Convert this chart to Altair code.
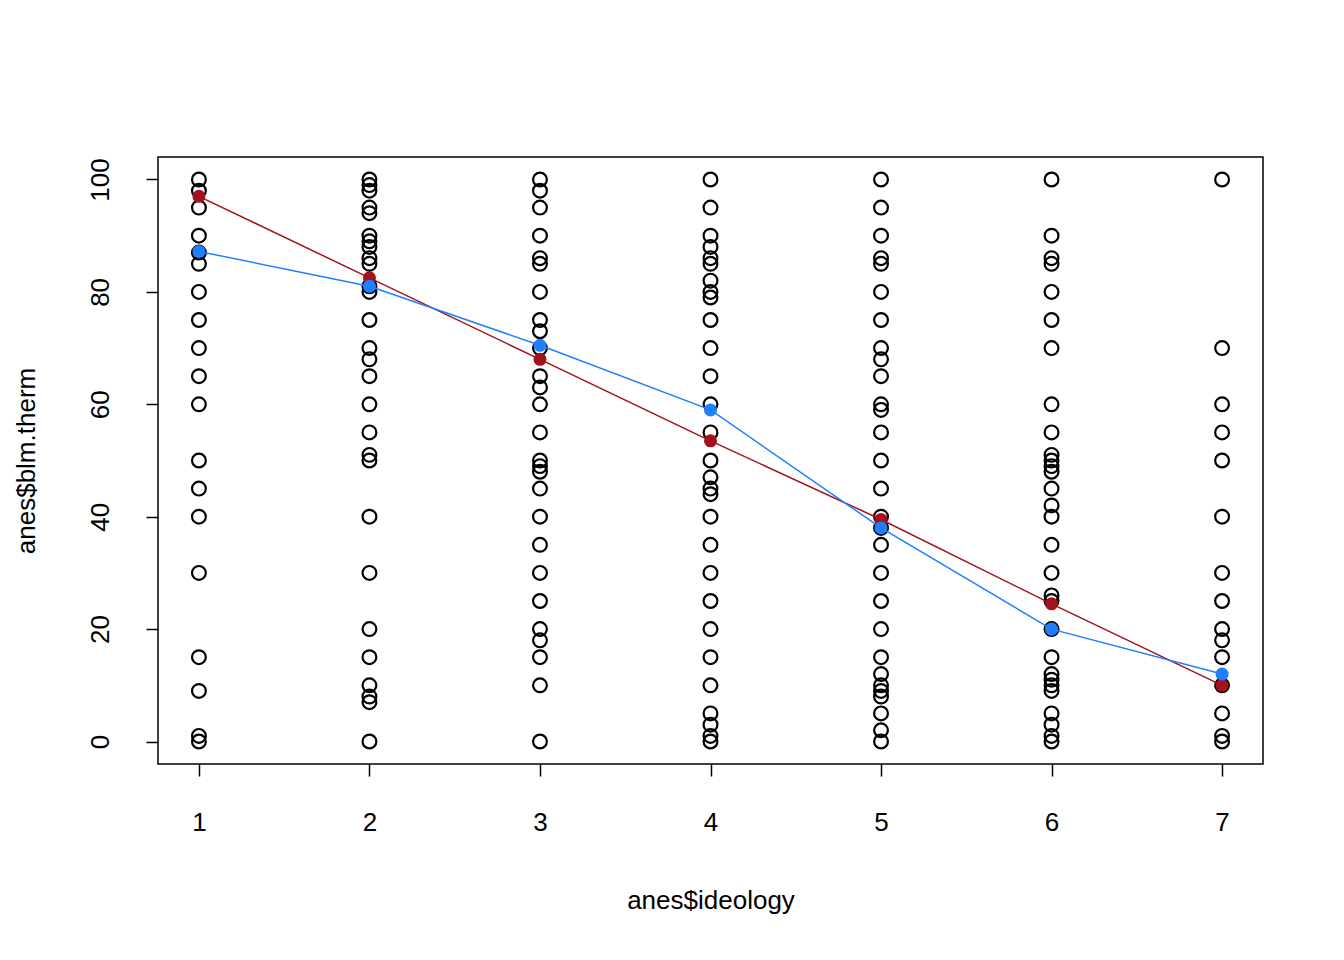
import pandas as pd
import altair as alt

col1 = [100, 98, 95, 90, 87, 85, 80, 75, 70, 65, 60, 50, 45, 40, 30, 15, 9, 1, 0]
col2 = [100, 99, 98, 95, 94, 90, 89, 88, 86, 85, 81, 80, 75, 70, 68, 65, 60, 55, 51, 50, 40, 30, 20, 15, 10, 8, 7, 0]
col3 = [100, 98, 95, 90, 86, 85, 80, 75, 73, 70, 65, 63, 60, 55, 50, 49, 48, 45, 40, 35, 30, 25, 20, 18, 15, 10, 0]
col4 = [100, 95, 90, 88, 86, 85, 82, 80, 79, 75, 70, 65, 60, 55, 50, 47, 45, 44, 40, 35, 30, 25, 20, 15, 10, 5, 3, 1, 0]
col5 = [100, 95, 90, 86, 85, 80, 75, 70, 68, 65, 60, 59, 55, 50, 45, 40, 38, 35, 30, 25, 20, 15, 12, 10, 9, 8, 5, 2, 0]
col6 = [100, 90, 86, 85, 80, 75, 70, 60, 55, 51, 50, 49, 48, 45, 42, 40, 35, 30, 26, 25, 20, 15, 12, 11, 10, 9, 5, 3, 1, 0]
col7 = [100, 70, 60, 55, 50, 40, 30, 25, 20, 18, 15, 10, 5, 1, 0]

ideology = [1, 2, 3, 4, 5, 6, 7]
red_means = [97, 82.5, 68, 53.5, 39.5, 24.5, 10]
blue_means = [87.2, 81, 70.5, 59, 38, 20, 12]

rows = []
for x, col in zip(ideology, [col1, col2, col3, col4, col5, col6, col7]):
    for v in col:
        rows.append({"ideology": x, "therm": v})
points = pd.DataFrame(rows)
means = pd.DataFrame({"ideology": ideology * 2,
                      "therm": red_means + blue_means,
                      "series": ["red"] * 7 + ["blue"] * 7})

xs = alt.Scale(domain=[0.76, 7.24], nice=False, zero=False)
ys = alt.Scale(domain=[-4, 104], nice=False, zero=False)
X = alt.X("ideology:Q", scale=xs, title="anes$ideology",
          axis=alt.Axis(values=ideology, format="d", grid=False, domain=False,
                        tickSize=12, tickColor="black", tickWidth=1.5, labelPadding=33,
                        labelFontSize=26, titleFontSize=26, titleFontWeight="normal",
                        titlePadding=52, labelColor="black", titleColor="black"))
Y = alt.Y("therm:Q", scale=ys, title="anes$blm.therm",
          axis=alt.Axis(values=[0, 20, 40, 60, 80, 100], grid=False, domain=False,
                        tickSize=12, tickColor="black", tickWidth=1.5, labelAngle=-90,
                        labelAlign="center", labelBaseline="bottom", labelPadding=33,
                        labelFontSize=26, titleFontSize=26, titleFontWeight="normal",
                        titlePadding=48, labelColor="black", titleColor="black"))

color = alt.Color("series:N", scale=alt.Scale(domain=["red", "blue"], range=["#A3111B", "#1F7FFF"]), legend=None)

circles = alt.Chart(points).mark_point(shape="circle", filled=False, color="black",
                                        size=190, strokeWidth=2.2, opacity=1).encode(x=X, y=Y)
lines = alt.Chart(means).mark_line(strokeWidth=1.5).encode(x=X, y=Y, color=color, detail="series:N")
dots = alt.Chart(means).mark_circle(size=170, opacity=1).encode(x=X, y=Y, color=color)

chart = (circles + lines + dots).properties(
    width=1105, height=607,
    autosize=alt.AutoSizeParams(type="none"),
    padding={"left": 150, "top": 149, "right": 70, "bottom": 180},
).configure(font="Liberation Sans").configure_view(stroke="black", strokeWidth=1.5)

chart.save("out.html", embed_options={"renderer": "svg", "actions": False})
